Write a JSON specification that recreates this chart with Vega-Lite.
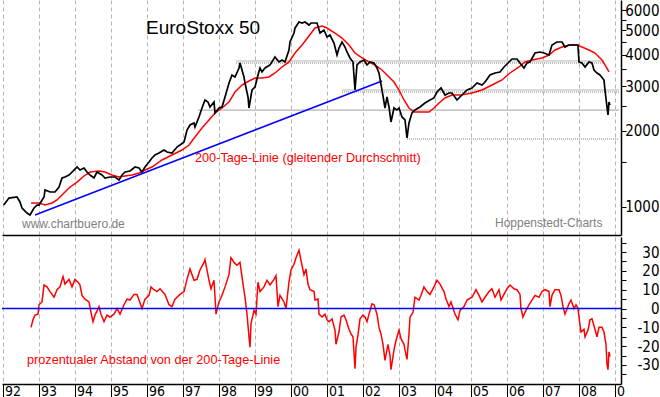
{
  "$schema": "https://vega.github.io/schema/vega-lite/v6.json",
  "background": "white",
  "padding": 0,
  "spacing": 0,
  "config": {
    "view": {"stroke": null},
    "font": "Liberation Sans",
    "axis": {"labelFont": "Liberation Sans Narrow, Arial Narrow, DejaVu Sans Condensed, sans-serif", "labelColor": "#000", "domainColor": "#000", "tickColor": "#000", "title": null, "labelOverlap": false}
  },
  "datasets": {
    "price": [
      {"t":1992.019,"v":1018},{"t":1992.167,"v":1085},{"t":1992.389,"v":1095},{"t":1992.472,"v":1047},{"t":1992.528,"v":991},{"t":1992.667,"v":947},{"t":1992.75,"v":930},{"t":1992.861,"v":991},{"t":1992.944,"v":1018},{"t":1993.0,"v":1018},{"t":1993.139,"v":1095},{"t":1993.167,"v":1167},{"t":1993.306,"v":1146},{"t":1993.444,"v":1146},{"t":1993.556,"v":1200},{"t":1993.639,"v":1302},{"t":1993.722,"v":1314},{"t":1993.833,"v":1338},{"t":1993.972,"v":1400},{"t":1994.056,"v":1439},{"t":1994.139,"v":1400},{"t":1994.25,"v":1426},{"t":1994.333,"v":1375},{"t":1994.417,"v":1338},{"t":1994.528,"v":1302},{"t":1994.611,"v":1375},{"t":1994.75,"v":1338},{"t":1994.833,"v":1302},{"t":1994.972,"v":1314},{"t":1995.111,"v":1314},{"t":1995.222,"v":1279},{"t":1995.306,"v":1338},{"t":1995.389,"v":1375},{"t":1995.528,"v":1388},{"t":1995.667,"v":1439},{"t":1995.778,"v":1426},{"t":1995.861,"v":1375},{"t":1995.944,"v":1439},{"t":1996.056,"v":1506},{"t":1996.139,"v":1562},{"t":1996.222,"v":1605},{"t":1996.333,"v":1635},{"t":1996.472,"v":1680},{"t":1996.556,"v":1650},{"t":1996.694,"v":1635},{"t":1996.833,"v":1726},{"t":1996.917,"v":1758},{"t":1997.028,"v":1807},{"t":1997.056,"v":1874},{"t":1997.111,"v":2015},{"t":1997.194,"v":2110},{"t":1997.306,"v":2148},{"t":1997.333,"v":2071},{"t":1997.444,"v":2269},{"t":1997.528,"v":2462},{"t":1997.611,"v":2648},{"t":1997.694,"v":2600},{"t":1997.75,"v":2485},{"t":1997.861,"v":2600},{"t":1997.889,"v":2353},{"t":1998.0,"v":2462},{"t":1998.083,"v":2485},{"t":1998.167,"v":2721},{"t":1998.278,"v":3091},{"t":1998.361,"v":3325},{"t":1998.444,"v":3265},{"t":1998.556,"v":3544},{"t":1998.583,"v":3709},{"t":1998.694,"v":3265},{"t":1998.722,"v":3091},{"t":1998.806,"v":2721},{"t":1998.833,"v":2462},{"t":1998.917,"v":2900},{"t":1999.0,"v":2981},{"t":1999.083,"v":3325},{"t":1999.139,"v":3544},{"t":1999.194,"v":3417},{"t":1999.278,"v":3544},{"t":1999.417,"v":3642},{"t":1999.556,"v":3917},{"t":1999.667,"v":3743},{"t":1999.75,"v":3811},{"t":1999.833,"v":3743},{"t":1999.944,"v":4174},{"t":1999.972,"v":4489},{"t":2000.083,"v":4872},{"t":2000.111,"v":5099},{"t":2000.222,"v":5385},{"t":2000.306,"v":5336},{"t":2000.389,"v":5385},{"t":2000.5,"v":5240},{"t":2000.556,"v":5336},{"t":2000.722,"v":5336},{"t":2000.806,"v":4872},{"t":2000.917,"v":5007},{"t":2001.0,"v":4698},{"t":2001.083,"v":4784},{"t":2001.194,"v":4448},{"t":2001.278,"v":3989},{"t":2001.333,"v":4250},{"t":2001.417,"v":4489},{"t":2001.5,"v":4289},{"t":2001.556,"v":4099},{"t":2001.639,"v":3882},{"t":2001.722,"v":3743},{"t":2001.778,"v":2900},{"t":2001.833,"v":3642},{"t":2001.917,"v":3743},{"t":2002.028,"v":3811},{"t":2002.111,"v":3642},{"t":2002.194,"v":3743},{"t":2002.306,"v":3709},{"t":2002.389,"v":3544},{"t":2002.444,"v":3386},{"t":2002.528,"v":2900},{"t":2002.611,"v":2462},{"t":2002.667,"v":2721},{"t":2002.722,"v":2485},{"t":2002.778,"v":2168},{"t":2002.861,"v":2462},{"t":2002.944,"v":2418},{"t":2003.0,"v":2462},{"t":2003.083,"v":2269},{"t":2003.167,"v":2208},{"t":2003.222,"v":1874},{"t":2003.278,"v":2148},{"t":2003.361,"v":2353},{"t":2003.444,"v":2418},{"t":2003.583,"v":2485},{"t":2003.722,"v":2577},{"t":2003.861,"v":2648},{"t":2003.972,"v":2697},{"t":2004.056,"v":2848},{"t":2004.167,"v":2954},{"t":2004.278,"v":2771},{"t":2004.389,"v":2822},{"t":2004.472,"v":2822},{"t":2004.611,"v":2648},{"t":2004.75,"v":2771},{"t":2004.889,"v":2900},{"t":2005.028,"v":2954},{"t":2005.167,"v":3091},{"t":2005.306,"v":3035},{"t":2005.389,"v":3119},{"t":2005.528,"v":3325},{"t":2005.667,"v":3386},{"t":2005.806,"v":3417},{"t":2005.917,"v":3576},{"t":2006.056,"v":3743},{"t":2006.139,"v":3846},{"t":2006.278,"v":3846},{"t":2006.361,"v":3709},{"t":2006.472,"v":3544},{"t":2006.556,"v":3709},{"t":2006.639,"v":3743},{"t":2006.778,"v":4062},{"t":2006.917,"v":4099},{"t":2007.028,"v":4062},{"t":2007.167,"v":3989},{"t":2007.25,"v":4368},{"t":2007.389,"v":4489},{"t":2007.528,"v":4489},{"t":2007.611,"v":4289},{"t":2007.722,"v":4368},{"t":2007.861,"v":4368},{"t":2007.972,"v":4368},{"t":2008.0,"v":3743},{"t":2008.083,"v":3709},{"t":2008.167,"v":3576},{"t":2008.278,"v":3743},{"t":2008.361,"v":3709},{"t":2008.417,"v":3480},{"t":2008.5,"v":3386},{"t":2008.583,"v":3325},{"t":2008.694,"v":3177},{"t":2008.722,"v":2900},{"t":2008.778,"v":2485},{"t":2008.806,"v":2310},{"t":2008.833,"v":2600},{"t":2008.861,"v":2530}
    ],
    "ma": [
      {"t":1992.778,"v":1037},{"t":1993.0,"v":1037},{"t":1993.167,"v":1018},{"t":1993.361,"v":1037},{"t":1993.5,"v":1066},{"t":1993.639,"v":1115},{"t":1993.833,"v":1189},{"t":1994.056,"v":1255},{"t":1994.25,"v":1326},{"t":1994.417,"v":1375},{"t":1994.667,"v":1388},{"t":1994.833,"v":1375},{"t":1995.028,"v":1338},{"t":1995.222,"v":1314},{"t":1995.389,"v":1326},{"t":1995.583,"v":1338},{"t":1995.778,"v":1363},{"t":1995.944,"v":1400},{"t":1996.139,"v":1439},{"t":1996.417,"v":1534},{"t":1996.694,"v":1605},{"t":1996.972,"v":1680},{"t":1997.167,"v":1758},{"t":1997.333,"v":1891},{"t":1997.528,"v":2052},{"t":1997.722,"v":2208},{"t":1997.889,"v":2353},{"t":1998.083,"v":2462},{"t":1998.278,"v":2600},{"t":1998.444,"v":2848},{"t":1998.639,"v":3035},{"t":1998.833,"v":3148},{"t":1999.0,"v":3235},{"t":1999.194,"v":3235},{"t":1999.389,"v":3265},{"t":1999.556,"v":3386},{"t":1999.75,"v":3576},{"t":1999.944,"v":3743},{"t":2000.111,"v":4062},{"t":2000.306,"v":4368},{"t":2000.5,"v":4741},{"t":2000.667,"v":5099},{"t":2000.861,"v":5192},{"t":2001.0,"v":5099},{"t":2001.222,"v":4872},{"t":2001.417,"v":4655},{"t":2001.611,"v":4368},{"t":2001.778,"v":4062},{"t":2001.972,"v":3882},{"t":2002.167,"v":3743},{"t":2002.333,"v":3642},{"t":2002.528,"v":3480},{"t":2002.722,"v":3265},{"t":2002.861,"v":3119},{"t":2003.0,"v":2900},{"t":2003.139,"v":2648},{"t":2003.278,"v":2462},{"t":2003.417,"v":2374},{"t":2003.583,"v":2374},{"t":2003.833,"v":2374},{"t":2003.972,"v":2462},{"t":2004.111,"v":2577},{"t":2004.278,"v":2697},{"t":2004.472,"v":2771},{"t":2004.722,"v":2771},{"t":2005.028,"v":2822},{"t":2005.306,"v":2900},{"t":2005.583,"v":3035},{"t":2005.861,"v":3177},{"t":2006.083,"v":3386},{"t":2006.333,"v":3576},{"t":2006.5,"v":3743},{"t":2006.694,"v":3811},{"t":2006.972,"v":3882},{"t":2007.167,"v":3989},{"t":2007.333,"v":4174},{"t":2007.528,"v":4289},{"t":2007.722,"v":4368},{"t":2007.944,"v":4368},{"t":2008.083,"v":4289},{"t":2008.278,"v":4174},{"t":2008.444,"v":4062},{"t":2008.639,"v":3811},{"t":2008.722,"v":3642},{"t":2008.833,"v":3417}
    ],
    "pct": [
      {"t":1992.778,"p":-10},{"t":1992.833,"p":-6},{"t":1992.889,"p":-3.5},{"t":1992.972,"p":-3},{"t":1993.0,"p":2},{"t":1993.083,"p":3.5},{"t":1993.139,"p":12.5},{"t":1993.222,"p":11.5},{"t":1993.306,"p":9},{"t":1993.417,"p":6},{"t":1993.5,"p":10},{"t":1993.583,"p":11.5},{"t":1993.667,"p":17},{"t":1993.722,"p":13},{"t":1993.833,"p":15.5},{"t":1993.917,"p":11.5},{"t":1994.0,"p":15.5},{"t":1994.083,"p":14},{"t":1994.139,"p":12.5},{"t":1994.194,"p":7},{"t":1994.278,"p":5},{"t":1994.389,"p":3.5},{"t":1994.444,"p":-2},{"t":1994.5,"p":-7},{"t":1994.556,"p":-3.5},{"t":1994.667,"p":1},{"t":1994.722,"p":-3},{"t":1994.806,"p":-7},{"t":1994.889,"p":-3.5},{"t":1994.972,"p":-4.5},{"t":1995.083,"p":-3},{"t":1995.167,"p":0},{"t":1995.25,"p":-3},{"t":1995.361,"p":2},{"t":1995.444,"p":5},{"t":1995.528,"p":4.5},{"t":1995.639,"p":7.5},{"t":1995.722,"p":7.5},{"t":1995.778,"p":4.5},{"t":1995.861,"p":0},{"t":1995.944,"p":5},{"t":1996.056,"p":7},{"t":1996.111,"p":11.5},{"t":1996.194,"p":10},{"t":1996.278,"p":9},{"t":1996.361,"p":10.5},{"t":1996.5,"p":7.5},{"t":1996.611,"p":2},{"t":1996.694,"p":1},{"t":1996.778,"p":5},{"t":1996.917,"p":7.5},{"t":1997.028,"p":9},{"t":1997.111,"p":15.5},{"t":1997.194,"p":21},{"t":1997.306,"p":15},{"t":1997.389,"p":15.5},{"t":1997.472,"p":20.5},{"t":1997.583,"p":24.5},{"t":1997.611,"p":26},{"t":1997.722,"p":15},{"t":1997.778,"p":10.5},{"t":1997.861,"p":15},{"t":1997.917,"p":-3},{"t":1998.0,"p":3.5},{"t":1998.083,"p":7},{"t":1998.167,"p":11.5},{"t":1998.278,"p":18},{"t":1998.333,"p":27},{"t":1998.417,"p":24.5},{"t":1998.5,"p":23},{"t":1998.583,"p":24.5},{"t":1998.667,"p":13},{"t":1998.722,"p":6},{"t":1998.778,"p":-3},{"t":1998.833,"p":-15},{"t":1998.861,"p":-20.5},{"t":1998.889,"p":-8},{"t":1998.972,"p":-1},{"t":1999.028,"p":-3},{"t":1999.083,"p":14},{"t":1999.139,"p":9},{"t":1999.25,"p":11.5},{"t":1999.333,"p":15},{"t":1999.417,"p":12.5},{"t":1999.528,"p":15.5},{"t":1999.583,"p":17.5},{"t":1999.639,"p":1},{"t":1999.694,"p":7},{"t":1999.806,"p":3.5},{"t":1999.861,"p":0},{"t":1999.944,"p":14},{"t":2000.0,"p":20.5},{"t":2000.083,"p":23.5},{"t":2000.139,"p":27},{"t":2000.222,"p":31},{"t":2000.278,"p":25.5},{"t":2000.361,"p":18},{"t":2000.417,"p":21},{"t":2000.472,"p":13},{"t":2000.528,"p":10},{"t":2000.639,"p":9},{"t":2000.667,"p":4.5},{"t":2000.75,"p":5},{"t":2000.778,"p":-3},{"t":2000.861,"p":-4.5},{"t":2000.944,"p":-3},{"t":2001.0,"p":-6},{"t":2001.056,"p":-7},{"t":2001.139,"p":-5.5},{"t":2001.222,"p":-11.5},{"t":2001.25,"p":-19},{"t":2001.333,"p":-12.5},{"t":2001.389,"p":-4.5},{"t":2001.472,"p":-3.5},{"t":2001.528,"p":-6},{"t":2001.611,"p":-11},{"t":2001.667,"p":-13.5},{"t":2001.722,"p":-15},{"t":2001.778,"p":-32},{"t":2001.806,"p":-20.5},{"t":2001.861,"p":-14},{"t":2001.917,"p":-5.5},{"t":2002.0,"p":-3.5},{"t":2002.056,"p":-4.5},{"t":2002.111,"p":-7},{"t":2002.167,"p":-3},{"t":2002.25,"p":2.5},{"t":2002.306,"p":2},{"t":2002.389,"p":-3},{"t":2002.444,"p":-10},{"t":2002.5,"p":-13.5},{"t":2002.556,"p":-19},{"t":2002.611,"p":-27.5},{"t":2002.694,"p":-19},{"t":2002.75,"p":-25},{"t":2002.778,"p":-32.5},{"t":2002.861,"p":-22},{"t":2002.917,"p":-17},{"t":2003.0,"p":-11.5},{"t":2003.056,"p":-16},{"t":2003.139,"p":-19},{"t":2003.167,"p":-22},{"t":2003.222,"p":-27},{"t":2003.278,"p":-13.5},{"t":2003.306,"p":-4.5},{"t":2003.389,"p":-2},{"t":2003.444,"p":6},{"t":2003.556,"p":4.5},{"t":2003.611,"p":7},{"t":2003.694,"p":11.5},{"t":2003.778,"p":9},{"t":2003.861,"p":7.5},{"t":2003.972,"p":11.5},{"t":2004.056,"p":15},{"t":2004.139,"p":13},{"t":2004.25,"p":9},{"t":2004.306,"p":5},{"t":2004.389,"p":1},{"t":2004.444,"p":3.5},{"t":2004.556,"p":-3},{"t":2004.639,"p":-6},{"t":2004.694,"p":-1},{"t":2004.806,"p":1},{"t":2004.889,"p":4.5},{"t":2005.028,"p":6},{"t":2005.139,"p":10},{"t":2005.222,"p":7},{"t":2005.306,"p":3.5},{"t":2005.389,"p":6},{"t":2005.5,"p":9},{"t":2005.583,"p":10.5},{"t":2005.667,"p":6},{"t":2005.778,"p":10},{"t":2005.833,"p":4.5},{"t":2005.917,"p":7.5},{"t":2006.0,"p":10.5},{"t":2006.083,"p":12.5},{"t":2006.194,"p":10.5},{"t":2006.278,"p":10},{"t":2006.361,"p":7.5},{"t":2006.389,"p":0},{"t":2006.444,"p":-4.5},{"t":2006.5,"p":-2},{"t":2006.611,"p":2},{"t":2006.694,"p":4.5},{"t":2006.778,"p":7},{"t":2006.889,"p":6},{"t":2006.972,"p":9},{"t":2007.056,"p":10},{"t":2007.167,"p":9},{"t":2007.194,"p":1},{"t":2007.25,"p":7},{"t":2007.333,"p":10},{"t":2007.444,"p":10},{"t":2007.5,"p":7},{"t":2007.556,"p":1},{"t":2007.611,"p":-3},{"t":2007.722,"p":2.5},{"t":2007.778,"p":4.5},{"t":2007.861,"p":0},{"t":2007.917,"p":2},{"t":2007.972,"p":0},{"t":2008.028,"p":-9},{"t":2008.056,"p":-12.5},{"t":2008.139,"p":-11},{"t":2008.167,"p":-15},{"t":2008.25,"p":-11.5},{"t":2008.306,"p":-6},{"t":2008.361,"p":-5.5},{"t":2008.444,"p":-11},{"t":2008.5,"p":-15},{"t":2008.556,"p":-10},{"t":2008.639,"p":-10},{"t":2008.694,"p":-12.5},{"t":2008.75,"p":-19},{"t":2008.778,"p":-29.5},{"t":2008.806,"p":-32.5},{"t":2008.833,"p":-23},{"t":2008.861,"p":-25.5}
    ],
    "refs": [
      {"t":1998.472,"t2":2008.686,"v":3777,"kind":"solid"},
      {"t":1998.472,"t2":2008.686,"v":3709,"kind":"dotted"},
      {"t":1997.417,"t2":2009.111,"v":2416,"kind":"solid"},
      {"t":2001.417,"t2":2009.111,"v":2900,"kind":"solid"},
      {"t":2001.417,"t2":2009.111,"v":2848,"kind":"dotted"},
      {"t":2003.222,"t2":2009.083,"v":1857,"kind":"dotted"}
    ],
    "trend": [
      {"t":1992.889,"v":930},
      {"t":2002.528,"v":3148}
    ],
    "notes": [
      {"t":1995.972,"v":4830,"label":"EuroStoxx 50","kind":"title"},
      {"t":1997.333,"v":1506,"label":"200-Tage-Linie (gleitender Durchschnitt)","kind":"red"},
      {"t":1992.528,"v":826,"label":"www.chartbuero.de","kind":"gray"},
      {"t":2005.667,"v":831,"label":"Hoppenstedt-Charts","kind":"gray"}
    ],
    "zero": [
      {"t":1991.972,"t2":2009.167,"p":0}
    ],
    "pnote": [
      {"t":1992.667,"p":-29.5,"label":"prozentualer Abstand von der 200-Tage-Linie"}
    ]
  },
  "vconcat": [
    {
      "width": 619,
      "height": 235,
      "encoding": {
        "x": {
          "field": "t", "type": "quantitative",
          "scale": {"domain": [1991.972, 2009.167], "nice": false, "zero": false},
          "axis": {"orient": "bottom", "values": [1992,1993,1994,1995,1996,1997,1998,1999,2000,2001,2002,2003,2004,2005,2006,2007,2008,2009], "grid": true, "gridDash": [4,3], "gridColor": "#b4b4b4", "labels": false, "ticks": false, "domainWidth": 1.5}
        },
        "y": {
          "field": "v", "type": "quantitative",
          "scale": {"type": "log", "domain": [775, 6580], "nice": false, "zero": false},
          "axis": {"orient": "right", "values": [1000,1500,2000,2500,3000,3500,4000,4500,5000,5500,6000], "labelExpr": "datum.value % 1000 == 0 ? toString(datum.value) : ''", "grid": false, "tickSize": 5, "labelAlign": "right", "labelPadding": 33, "labelFontSize": 15, "labelOverlap": false, "labelBaseline": "middle", "domainWidth": 1.5}
        }
      },
      "layer": [
        {
          "data": {"name": "refs"},
          "transform": [{"filter": "datum.kind == 'solid'"}],
          "mark": {"type": "rule", "color": "#b4b4b4", "strokeWidth": 1.2},
          "encoding": {"x2": {"field": "t2"}}
        },
        {
          "data": {"name": "refs"},
          "transform": [{"filter": "datum.kind == 'dotted'"}],
          "mark": {"type": "rule", "color": "#808080", "strokeWidth": 1.2, "strokeDash": [1, 1]},
          "encoding": {"x2": {"field": "t2"}}
        },
        {
          "data": {"name": "trend"},
          "mark": {"type": "line", "color": "#0000ff", "strokeWidth": 1.5}
        },
        {
          "data": {"name": "ma"},
          "mark": {"type": "line", "color": "#ff0000", "strokeWidth": 1.5}
        },
        {
          "data": {"name": "price"},
          "mark": {"type": "line", "color": "#000000", "strokeWidth": 1.7}
        },
        {
          "data": {"name": "notes"},
          "transform": [{"filter": "datum.kind == 'title'"}],
          "mark": {"type": "text", "align": "left", "baseline": "alphabetic", "fontSize": 19, "color": "#000"},
          "encoding": {"text": {"field": "label"}}
        },
        {
          "data": {"name": "notes"},
          "transform": [{"filter": "datum.kind == 'red'"}],
          "mark": {"type": "text", "align": "left", "baseline": "alphabetic", "fontSize": 12.7, "color": "#ff0000"},
          "encoding": {"text": {"field": "label"}}
        },
        {
          "data": {"name": "notes"},
          "transform": [{"filter": "datum.kind == 'gray'"}],
          "mark": {"type": "text", "align": "left", "baseline": "alphabetic", "fontSize": 12, "color": "#808080"},
          "encoding": {"text": {"field": "label"}}
        }
      ]
    },
    {
      "width": 619,
      "height": 147,
      "encoding": {
        "x": {
          "field": "t", "type": "quantitative",
          "scale": {"domain": [1991.972, 2009.167], "nice": false, "zero": false},
          "axis": {"orient": "bottom", "values": [1992,1993,1994,1995,1996,1997,1998,1999,2000,2001,2002,2003,2004,2005,2006,2007,2008,2009], "labelExpr": "datum.value == 2009 ? '0' : format(datum.value % 100, '02d')", "grid": true, "gridDash": [4,3], "gridColor": "#b4b4b4", "tickSize": 14, "labelAlign": "left", "labelOffset": 1.5, "labelPadding": -7, "labelBaseline": "middle", "labelFontSize": 14, "labelFlush": false, "labelOverlap": false, "domainWidth": 1.5}
        },
        "y": {
          "field": "p", "type": "quantitative",
          "scale": {"domain": [-40.1, 38.0], "nice": false, "zero": false},
          "axis": {"orient": "right", "values": [-35,-30,-25,-20,-15,-10,-5,0,5,10,15,20,25,30,35], "labelExpr": "datum.value % 10 == 0 ? toString(datum.value) : ''", "grid": false, "tickSize": 5, "labelAlign": "right", "labelPadding": 33, "labelFontSize": 15, "labelOverlap": false, "labelBaseline": "middle", "domainWidth": 1.5}
        }
      },
      "layer": [
        {
          "data": {"name": "pct"},
          "mark": {"type": "line", "color": "#ff0000", "strokeWidth": 1.5}
        },
        {
          "data": {"name": "zero"},
          "mark": {"type": "rule", "color": "#0000ff", "strokeWidth": 1.5},
          "encoding": {"x2": {"field": "t2"}}
        },
        {
          "data": {"name": "pnote"},
          "mark": {"type": "text", "align": "left", "baseline": "alphabetic", "fontSize": 12.7, "color": "#ff0000"},
          "encoding": {"text": {"field": "label"}}
        }
      ]
    }
  ]
}
